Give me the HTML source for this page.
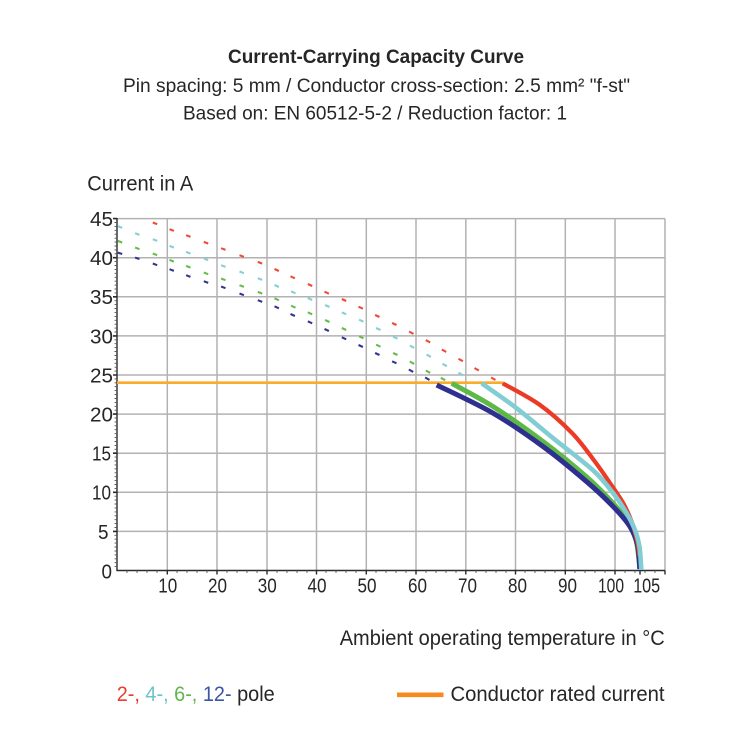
<!DOCTYPE html>
<html><head><meta charset="utf-8">
<style>
html,body{margin:0;padding:0;background:#fff;}
svg{display:block;}
text{font-family:"Liberation Sans Narrow","Liberation Sans",sans-serif;fill:#262626;}
</style></head>
<body>
<svg width="750" height="750" viewBox="0 0 750 750" xmlns="http://www.w3.org/2000/svg">
<rect width="750" height="750" fill="#fff"/>
<!-- Titles -->
<text x="228" y="63" font-size="19" font-weight="700" textLength="296" lengthAdjust="spacingAndGlyphs">Current-Carrying Capacity Curve</text>
<text x="123" y="92" font-size="19.5" textLength="507" lengthAdjust="spacingAndGlyphs">Pin spacing: 5 mm / Conductor cross-section: 2.5 mm² "f-st"</text>
<text x="183" y="119.3" font-size="19.5" textLength="384" lengthAdjust="spacingAndGlyphs">Based on: EN 60512-5-2 / Reduction factor: 1</text>

<text x="87.3" y="190.7" font-size="21.5" textLength="106" lengthAdjust="spacingAndGlyphs">Current in A</text>

<!-- Grid -->
<g stroke="#b2b2b2" stroke-width="1.5" fill="none">
<path d="M117 218.6H665M117 257.7H665M117 296.8H665M117 335.9H665M117 375H665M117 414.1H665M117 453.2H665M117 492.3H665M117 531.4H665"/>
<path d="M167.3 218.6V570.5M217 218.6V570.5M267 218.6V570.5M316.5 218.6V570.5M366.3 218.6V570.5M416 218.6V570.5M465.8 218.6V570.5M515.5 218.6V570.5M565.3 218.6V570.5M615 218.6V570.5M665 218.6V570.5"/>
</g>

<!-- Axes -->
<g stroke="#2a2a2a" fill="none">
<path d="M117 218V571M116.5 570.5H665" stroke-width="1.4"/>
<path stroke="#555" stroke-width="0.9" d="M114.5 222.5H117M114.5 226.4H117M114.5 230.3H117M114.5 234.2H117M114.5 238.2H117M114.5 242.1H117M114.5 246H117M114.5 249.9H117M114.5 253.8H117M114.5 261.6H117M114.5 265.5H117M114.5 269.4H117M114.5 273.3H117M114.5 277.3H117M114.5 281.2H117M114.5 285.1H117M114.5 289H117M114.5 292.9H117M114.5 300.7H117M114.5 304.6H117M114.5 308.5H117M114.5 312.4H117M114.5 316.4H117M114.5 320.3H117M114.5 324.2H117M114.5 328.1H117M114.5 332H117M114.5 339.8H117M114.5 343.7H117M114.5 347.6H117M114.5 351.5H117M114.5 355.5H117M114.5 359.4H117M114.5 363.3H117M114.5 367.2H117M114.5 371.1H117M114.5 378.9H117M114.5 382.8H117M114.5 386.7H117M114.5 390.6H117M114.5 394.6H117M114.5 398.5H117M114.5 402.4H117M114.5 406.3H117M114.5 410.2H117M114.5 418H117M114.5 421.9H117M114.5 425.8H117M114.5 429.7H117M114.5 433.7H117M114.5 437.6H117M114.5 441.5H117M114.5 445.4H117M114.5 449.3H117M114.5 457.1H117M114.5 461H117M114.5 464.9H117M114.5 468.8H117M114.5 472.8H117M114.5 476.7H117M114.5 480.6H117M114.5 484.5H117M114.5 488.4H117M114.5 496.2H117M114.5 500.1H117M114.5 504H117M114.5 507.9H117M114.5 511.9H117M114.5 515.8H117M114.5 519.7H117M114.5 523.6H117M114.5 527.5H117M114.5 535.3H117M114.5 539.2H117M114.5 543.1H117M114.5 547H117M114.5 551H117M114.5 554.9H117M114.5 558.8H117M114.5 562.7H117M114.5 566.6H117"/>
<path stroke-width="1.6" d="M113 218.6H117M113 257.7H117M113 296.8H117M113 335.9H117M113 375H117M113 414.1H117M113 453.2H117M113 492.3H117M113 531.4H117"/>
<path stroke="#555" stroke-width="0.9" d="M127 570.5v2.5M137 570.5v2.5M147 570.5v2.5M157 570.5v2.5M177 570.5v2.5M187 570.5v2.5M197 570.5v2.5M207 570.5v2.5M227 570.5v2.5M237 570.5v2.5M247 570.5v2.5M257 570.5v2.5M277 570.5v2.5M287 570.5v2.5M297 570.5v2.5M307 570.5v2.5M326 570.5v2.5M336 570.5v2.5M346 570.5v2.5M356 570.5v2.5M376 570.5v2.5M386 570.5v2.5M396 570.5v2.5M406 570.5v2.5M426 570.5v2.5M436 570.5v2.5M446 570.5v2.5M456 570.5v2.5M476 570.5v2.5M486 570.5v2.5M496 570.5v2.5M506 570.5v2.5M525 570.5v2.5M535 570.5v2.5M545 570.5v2.5M555 570.5v2.5M575 570.5v2.5M585 570.5v2.5M595 570.5v2.5M605 570.5v2.5M625 570.5v2.5M635 570.5v2.5M645 570.5v2.5M655 570.5v2.5"/>
<path stroke-width="1.4" d="M167.3 570.5v4M217 570.5v4M267 570.5v4M316.5 570.5v4M366.3 570.5v4M416 570.5v4M465.8 570.5v4M515.5 570.5v4M565.3 570.5v4M615 570.5v4M640 570.5v4M665 570.5v4"/>
</g>

<!-- Y tick labels -->
<g font-size="20.5" text-anchor="end">
<text x="113" y="226" textLength="23" lengthAdjust="spacingAndGlyphs">45</text>
<text x="113" y="265.1" textLength="23" lengthAdjust="spacingAndGlyphs">40</text>
<text x="113" y="304.2" textLength="23" lengthAdjust="spacingAndGlyphs">35</text>
<text x="113" y="343.3" textLength="23" lengthAdjust="spacingAndGlyphs">30</text>
<text x="113" y="382.4" textLength="23" lengthAdjust="spacingAndGlyphs">25</text>
<text x="113" y="421.5" textLength="23" lengthAdjust="spacingAndGlyphs">20</text>
<text x="111" y="460.6" textLength="19" lengthAdjust="spacingAndGlyphs">15</text>
<text x="111" y="499.7" textLength="19" lengthAdjust="spacingAndGlyphs">10</text>
<text x="108.5" y="538.8" textLength="10.5" lengthAdjust="spacingAndGlyphs">5</text>
<text x="112" y="578.6" textLength="10.5" lengthAdjust="spacingAndGlyphs">0</text>
</g>

<!-- X tick labels -->
<g font-size="20.5" text-anchor="middle">
<text x="167.8" y="592.7" textLength="19" lengthAdjust="spacingAndGlyphs">10</text>
<text x="217.5" y="592.7" textLength="19" lengthAdjust="spacingAndGlyphs">20</text>
<text x="267.3" y="592.7" textLength="19" lengthAdjust="spacingAndGlyphs">30</text>
<text x="317" y="592.7" textLength="19" lengthAdjust="spacingAndGlyphs">40</text>
<text x="367" y="592.7" textLength="19" lengthAdjust="spacingAndGlyphs">50</text>
<text x="417.5" y="592.7" textLength="19" lengthAdjust="spacingAndGlyphs">60</text>
<text x="467.5" y="592.7" textLength="19" lengthAdjust="spacingAndGlyphs">70</text>
<text x="517.5" y="592.7" textLength="19" lengthAdjust="spacingAndGlyphs">80</text>
<text x="567.5" y="592.7" textLength="19" lengthAdjust="spacingAndGlyphs">90</text>
<text x="611" y="592.7" textLength="26" lengthAdjust="spacingAndGlyphs">100</text>
<text x="646.7" y="592.7" textLength="27" lengthAdjust="spacingAndGlyphs">105</text>
</g>

<!-- Dashed extrapolation -->
<g fill="none" stroke-width="2.1" stroke-linecap="butt">
<path stroke="#ef4a38" d="M152.8 222.5l4.4 1.7M169.5 229.2l4.4 1.7M186.1 235.2l4.4 1.7M203.8 241.9l4.4 1.7M221.1 248.2l4.4 1.7M239.5 255.2l4.4 1.7M257.8 261.9l4.4 1.7M274.5 269l4.4 2M290.5 276.3l4.4 2M307.8 284l4.4 2M324.5 291.7l4.4 2M341.8 299l4.4 2M358.5 306.7l4.4 2M375.1 315l4.4 2M392.1 323l4.4 2M409.1 331.5l4.4 2.4M425.8 340.1l4.4 2.4M441.8 349.5l4.4 2.4M458.5 358.8l4.4 2.4M474.5 368.1l4.4 2.4M491.1 377.5l4.4 2.4"/>
<path stroke="#86cfd4" d="M117.8 226.2l4.4 1.7M135.1 233.2l4.4 1.7M152.8 239.2l4.4 1.7M169.5 245.9l4.4 1.7M186.1 251.9l4.4 1.7M203.8 258.5l4.4 1.7M221.1 265.2l4.4 1.7M239.5 271.5l4.4 1.7M257.8 278.2l4.4 1.7M274.5 285l4.4 2M291.1 291.3l4.4 2M307.8 298l4.4 2M325.1 305l4.4 2M341.8 312.3l4.4 2M359.1 319.7l4.4 2M376.1 328l4.4 2M393.1 336.7l4.4 2M409.8 345.5l4.4 2.4M426.5 354.5l4.4 2.4M442.5 363.8l4.4 2.4M458.5 372.8l4.4 2.4"/>
<path stroke="#67bb4f" d="M117.8 240.9l4.4 1.7M135.1 247.5l4.4 1.7M152.8 253.5l4.4 1.7M169.5 259.9l4.4 1.7M186.1 265.9l4.4 1.7M203.8 272.5l4.4 1.7M221.1 278.5l4.4 1.7M239.5 285.2l4.4 1.7M257.8 291.9l4.4 1.7M274.5 298.3l4.4 2M291.1 305.7l4.4 2M307.8 312.3l4.4 2M325.1 320l4.4 2M341.8 328l4.4 2M359.1 336.3l4.4 2M376.1 344.7l4.4 2M393.1 353l4.4 2M409.8 361.5l4.4 2.4M425.8 370.5l4.4 2.4M440.8 377.8l4.4 2.4"/>
<path stroke="#34358f" d="M117.8 252.6l4.4 1.4M135.1 257.6l4.4 1.4M152.8 263.5l4.4 1.7M169.5 269.2l4.4 1.7M186.1 275.2l4.4 1.7M203.8 281.2l4.4 1.7M221.1 286.5l4.4 1.7M239.5 293.5l4.4 1.7M257.8 300.2l4.4 1.7M274.5 306.3l4.4 2M290.5 314l4.4 2M307.8 321.3l4.4 2M324.5 329l4.4 2M341.8 337.3l4.4 2M358.5 345l4.4 2M375.1 353l4.4 2M392.1 361.3l4.4 2M408.8 369.5l4.4 2.4M425.1 377.5l4.4 2.4"/>
</g>

<!-- Conductor rated current -->
<path d="M117 382.7H503" stroke="#fbab2c" stroke-width="2.6" fill="none"/>

<!-- Solid curves -->
<g fill="none" stroke-linejoin="round" stroke-linecap="butt">
<path stroke="#5cb947" stroke-width="5" d="M451.7 383.3C458.6 387.2 478 397 493.3 406.7C508.6 416.4 527.7 430 543.3 441.7C558.9 453.4 575.6 467.3 586.7 477C597.8 486.7 603.3 492.8 610 500C616.7 507.2 622.4 513.3 626.7 520C631 526.7 633.8 532 636 540C638.2 548 639.2 563.3 639.8 568"/>
<path stroke="#2e2f8e" stroke-width="5" d="M436.7 385C446.1 389.7 475.5 403 493.3 413.3C511.1 423.6 527.7 435.3 543.3 446.7C558.9 458.1 575 471.7 586.7 481.7C598.4 491.7 606.1 499.2 613.3 506.7C620.5 514.2 626 520.3 630 526.7C634 533.1 635.9 538 637.5 545C639.1 552.1 639.4 565 639.8 569"/>
<path stroke="#ec3a26" stroke-width="4.2" d="M502.7 383.3C508.9 386.9 528.5 396.7 540 405C551.6 413.3 563.2 424 572 433C580.8 442 586.7 450.7 593 459C599.3 467.3 605 475.6 610 483C615.1 490.4 619.7 496.9 623.3 503.3C626.9 509.8 629.4 515.6 631.7 521.7C634 527.8 635.7 534.5 637 540C638.3 545.6 639.1 552.5 639.5 556"/>
<path stroke="#80cdd3" stroke-width="4.6" d="M481.7 383.3C487.5 387.5 504.8 399.1 516.7 408.3C528.6 417.5 540.5 427.9 553.3 438.3C566.1 448.7 583.3 461.3 593.3 470.5C603.3 479.7 607.7 486.2 613.3 493.3C618.9 500.4 623.1 507.2 626.7 513.3C630.3 519.4 632.9 524.4 635 530C637.1 535.6 638.5 540.3 639.5 547C640.55 553.7 641 566.2 641.3 570"/>
</g>

<!-- Axis title -->
<text x="339.7" y="645" font-size="21" textLength="325" lengthAdjust="spacingAndGlyphs">Ambient operating temperature in °C</text>

<!-- Legend -->
<text x="116.7" y="701" font-size="21.5" textLength="158" lengthAdjust="spacingAndGlyphs"><tspan fill="#ea3d2e">2-,</tspan> <tspan fill="#6fc3cc">4-,</tspan> <tspan fill="#62b54b">6-,</tspan> <tspan fill="#3a57a5">12-</tspan> <tspan fill="#262626">pole</tspan></text>
<path d="M397 694.8H443.5" stroke="#f7891f" stroke-width="4.6"/>
<text x="450.5" y="701" font-size="21.5" textLength="214" lengthAdjust="spacingAndGlyphs">Conductor rated current</text>
</svg>
</body></html>
